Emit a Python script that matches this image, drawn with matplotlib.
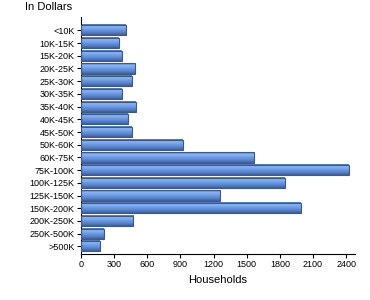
import numpy as np
import matplotlib
matplotlib.use("Agg")
import matplotlib.pyplot as plt
from matplotlib.colors import LinearSegmentedColormap

categories = ["<10K", "10K-15K", "15K-20K", "20K-25K", "25K-30K", "30K-35K",
              "35K-40K", "40K-45K", "45K-50K", "50K-60K", "60K-75K", "75K-100K",
              "100K-125K", "125K-150K", "150K-200K", "200K-250K", "250K-500K", ">500K"]
households = [404, 341, 368, 485, 458, 368, 494, 422, 458, 919, 1562, 2425,
              1846, 1258, 1991, 472, 206, 170]
xticks = [0, 300, 600, 900, 1200, 1500, 1800, 2100, 2400]

plt.rcParams['font.family'] = ['Liberation Sans', 'DejaVu Sans']

fig = plt.figure(figsize=(3.7, 3.0), dpi=100)
ax = fig.add_axes([81 / 370, 1 - 254 / 300, 274 / 370, 237 / 300])

cmap = LinearSegmentedColormap.from_list(
    "bar", ["#4a6ea6", "#8cb8f6", "#77a4ea", "#6590da", "#537cc2", "#3d5e96"])
grad = np.linspace(0, 1, 64).reshape(-1, 1)
h = 0.8
for i, v in enumerate(households):
    ax.imshow(grad, extent=[0, v, i + h / 2, i - h / 2], aspect='auto',
              cmap=cmap, interpolation='bilinear', zorder=2)
ax.barh(range(len(categories)), households, height=h, facecolor='none',
        edgecolor='#3d5a85', linewidth=0.8, zorder=3)

ax.set_xlim(0, 2480)
ax.set_ylim(len(categories) - 0.4, -1.05)
ax.set_yticks(range(len(categories)))
ax.set_yticklabels(categories, fontsize=6.5)
ax.set_xticks(xticks)
ax.set_xticklabels([str(t) for t in xticks], fontsize=6.5)
ax.spines['top'].set_visible(False)
ax.spines['right'].set_visible(False)
ax.tick_params(length=3, width=0.8, pad=1.5)
ax.set_xlabel("Households", fontsize=8)
fig.text(25 / 370, 1 - 7 / 300, "In Dollars", fontsize=8, va='center', ha='left')

fig.savefig("out.png", dpi=100)
